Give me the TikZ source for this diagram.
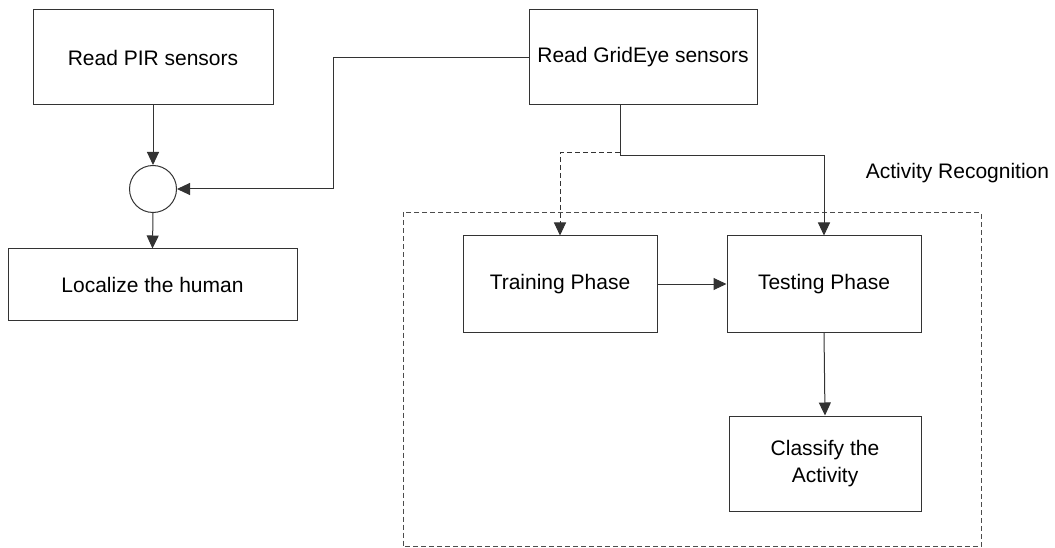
\documentclass[tikz,border=0pt]{standalone}
\usepackage{fontspec}
\setmainfont{Liberation Sans}
\usetikzlibrary{arrows.meta,positioning}
\begin{document}
\begin{tikzpicture}[x=1pt,y=1pt,
  box/.style={draw=black!80, line width=1pt, fill=white, align=center, inner sep=0pt,
    font=\fontsize{21}{27}\selectfont},
  conn/.style={draw=black!80, line width=1pt, -{Triangle[length=13pt,width=12pt]}},
  dconn/.style={conn, dash pattern=on 5pt off 3pt},
  frame/.style={draw=black!70, line width=1pt, dash pattern=on 5pt off 3pt},
  lbl/.style={font=\fontsize{21}{27}\selectfont, inner sep=0pt}
]
\useasboundingbox (0,0) rectangle (1055,-548);
\node[box, minimum width=240pt, minimum height=95pt] (pir) at (153,-57.5) {Read PIR sensors};
\node[box, minimum width=228pt, minimum height=95pt] (grid) at (643,-57.5) {Read GridEye sensors};
\node[draw=black!80, line width=1pt, circle, minimum size=47pt, inner sep=0pt] (circ) at (153,-189) {};
\node[box, minimum width=289pt, minimum height=71pt] (loc) at (152.5,-284.5) {Localize the human};
\draw[frame] (403,-212.5) rectangle (981,-546.5);
\node[lbl] (ar) at (957.5,-173) {Activity Recognition};
\node[box, minimum width=194pt, minimum height=96pt] (train) at (560,-284) {Training Phase};
\node[box, minimum width=194pt, minimum height=96pt] (test) at (824,-284) {Testing Phase};
\node[box, minimum width=192pt, minimum height=95pt] (cls) at (825,-463.5) {Classify the\\Activity};
\coordinate (gs) at ([xshift=92pt]grid.south west);
\coordinate (gj) at ([yshift=-50pt]gs);
\coordinate (bend) at (333,-57.5);
\draw[conn] (pir.south) -- (circ.north);
\draw[conn] (grid.west) -- (bend) |- (circ.east);
\draw[conn] (circ.south) -- (loc.north);
\draw[dconn] (gs) -- ([yshift=-47pt]gs) -| (train.north);
\draw[conn] (gs) -- (gj) -| (test.north);
\draw[conn] (train.east) -- (test.west);
\draw[conn] (test.south) -- (cls.north);
\end{tikzpicture}
\end{document}
